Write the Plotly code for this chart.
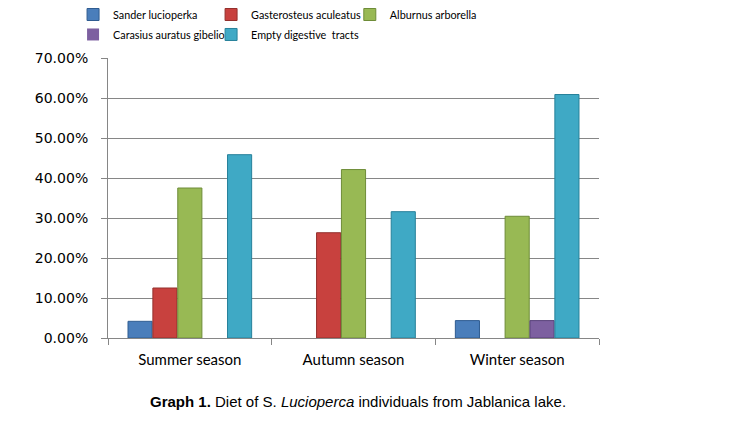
import plotly.graph_objects as go

seasons = ["Summer season", "Autumn season", "Winter season"]
sander = [0.0417, 0.0, 0.0435]
gasterosteus = [0.125, 0.2632, 0.0]
alburnus = [0.375, 0.4211, 0.3043]
carasius = [0.0, 0.0, 0.0435]
empty = [0.4583, 0.3158, 0.6087]
y_ticks = [0, 0.1, 0.2, 0.3, 0.4, 0.5, 0.6, 0.7]

series = [
    ("Sander lucioperka", sander, "#4A7EBB", "#2F5C91", "legend"),
    ("Gasterosteus aculeatus", gasterosteus, "#C8413E", "#93302D", "legend2"),
    ("Alburnus arborella", alburnus, "#98B954", "#6E8C38", "legend3"),
    ("Carasius auratus gibelio", carasius, "#7D60A0", "#584079", "legend4"),
    ("Empty digestive  tracts", empty, "#3FA9C5", "#26819A", "legend5"),
]

fig = go.Figure()
for name, vals, col, lcol, lg in series:
    fig.add_trace(go.Bar(
        x=seasons, y=vals, name=name, legend=lg, showlegend=True,
        marker=dict(color=col, line=dict(color=lcol, width=[1 if v > 0 else 0 for v in vals])),
    ))

legfont = dict(family="Lato, sans-serif", size=10.8, color="#000000")
common = dict(orientation="h", xanchor="left", yanchor="top",
              xref="container", yref="container",
              font=legfont, itemwidth=30, bgcolor="rgba(0,0,0,0)")
fig.update_layout(
    width=738, height=425,
    showlegend=True,
    margin=dict(l=108, r=139, t=58, b=87, autoexpand=False),
    paper_bgcolor="white", plot_bgcolor="white",
    barmode="group", bargap=0.24, bargroupgap=0.03,
    legend=dict(x=0.099, y=1.0, **common),
    legend2=dict(x=0.286, y=1.0, **common),
    legend3=dict(x=0.474, y=1.0, **common),
    legend4=dict(x=0.099, y=0.953, **common),
    legend5=dict(x=0.286, y=0.953, **common),
    xaxis=dict(showline=True, linecolor="#868686", linewidth=1,
               ticks="outside", tickson="boundaries", ticklen=6, tickcolor="#868686",
               tickfont=dict(family="Lato, sans-serif", size=15, color="#000"),
               ticklabelstandoff=8),
    yaxis=dict(range=[0, 0.7], tickvals=y_ticks, tickformat=".2%",
               showline=True, linecolor="#868686", linewidth=1,
               showgrid=True, gridcolor="#868686", gridwidth=1,
               ticks="outside", ticklen=6, tickcolor="#868686",
               ticklabelstandoff=10,
               tickfont=dict(family="DejaVu Sans", size=14, color="#000"),
               zeroline=False),
    annotations=[dict(
        text="<b>Graph 1.</b> Diet of S. <i>Lucioperca</i> individuals from Jablanica lake.",
        xref="paper", yref="paper", x=0.509, y=-0.19, xanchor="center", yanchor="top",
        showarrow=False,
        font=dict(family="Liberation Sans, sans-serif", size=15, color="#000"),
    )],
)

fig.write_html("out.html", config={"displayModeBar": False},
               post_script="document.body.style.margin='0px';")
